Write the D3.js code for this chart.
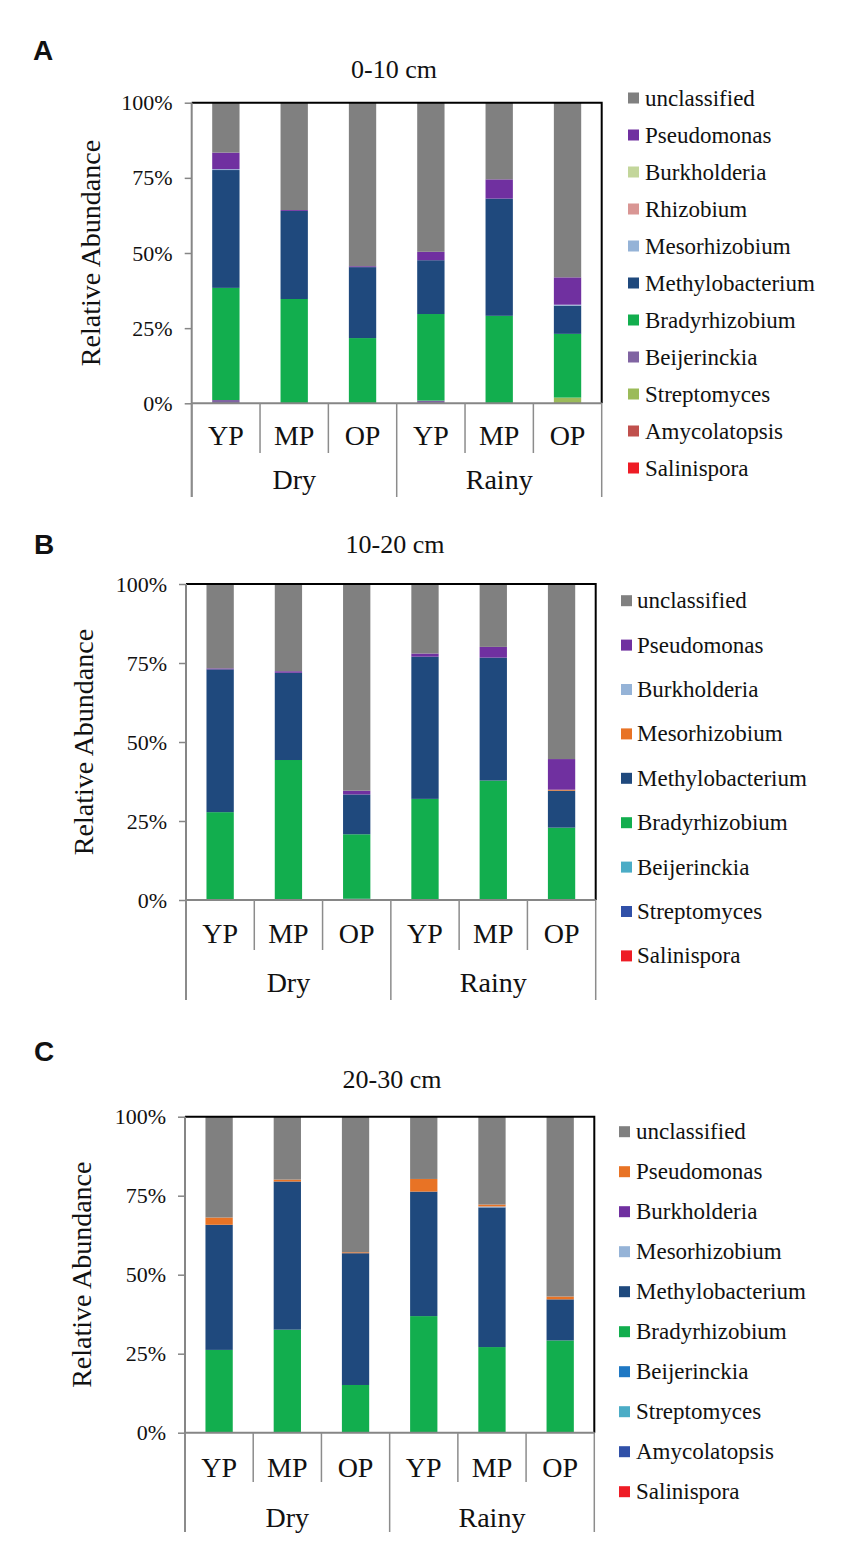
<!DOCTYPE html>
<html>
<head>
<meta charset="utf-8">
<script src="https://cdn.jsdelivr.net/npm/d3@7"></script>
<style>
  body { margin: 0; background: #fff; }
  svg text { font-family: "Liberation Serif", "Times New Roman", serif; fill: #111; }
  svg text.letter { font-family: "Liberation Sans", Arial, sans-serif; font-weight: bold; }
</style>
</head>
<body>
<svg id="chart" width="846" height="1558"></svg>
<script>
// x categories
var plots = ["YP", "MP", "OP", "YP", "MP", "OP"];
var seasons = ["Dry", "Rainy"];
var yTicks = [0, 25, 50, 75, 100];

// panel A, 0-10 cm (stack order bottom -> top)
var taxaA = ["Salinispora", "Amycolatopsis", "Streptomyces", "Beijerinckia", "Bradyrhizobium",
  "Methylobacterium", "Mesorhizobium", "Rhizobium", "Burkholderia", "Pseudomonas", "unclassified"];
var valsA = [
  [0, 0, 0, 0, 0, 0],
  [0, 0, 0, 0, 0, 0],
  [0, 0, 0, 0, 0, 1.9],
  [1.1, 0, 0, 0.9, 0, 0],
  [37.3, 34.7, 21.7, 28.8, 29.1, 21.2],
  [39.2, 29.3, 23.6, 17.9, 39.0, 9.4],
  [0.3, 0, 0, 0, 0, 0.3],
  [0, 0, 0, 0, 0, 0],
  [0, 0, 0, 0, 0, 0],
  [5.5, 0.3, 0.3, 2.8, 6.4, 9.1],
  [16.6, 35.7, 54.4, 49.6, 25.5, 58.1]
];
var colorsA = ["#ee1c25", "#c0504d", "#9bbb59", "#8064a2", "#12ae4e", "#1f497d", "#95b3d7",
  "#d99694", "#c3d69b", "#7030a0", "#808080"];

// panel B, 10-20 cm
var taxaB = ["Salinispora", "Streptomyces", "Beijerinckia", "Bradyrhizobium", "Methylobacterium",
  "Mesorhizobium", "Burkholderia", "Pseudomonas", "unclassified"];
var valsB = [
  [0, 0, 0, 0, 0, 0],
  [0, 0, 0.4, 0, 0, 0],
  [0, 0, 0, 0, 0, 0],
  [27.8, 44.3, 20.4, 32.0, 37.8, 22.9],
  [45.2, 27.6, 12.6, 45.0, 38.9, 11.7],
  [0, 0, 0, 0, 0, 0.3],
  [0, 0, 0, 0, 0, 0],
  [0.3, 0.5, 1.2, 1.0, 3.4, 9.7],
  [26.7, 27.6, 65.4, 22.0, 19.9, 55.4]
];
var colorsB = ["#ee1c25", "#3050a8", "#4bacc6", "#12ae4e", "#1f497d", "#e87325", "#95b3d7",
  "#7030a0", "#808080"];

// panel C, 20-30 cm
var taxaC = ["Salinispora", "Amycolatopsis", "Streptomyces", "Beijerinckia", "Bradyrhizobium",
  "Methylobacterium", "Mesorhizobium", "Burkholderia", "Pseudomonas", "unclassified"];
var valsC = [
  [0, 0, 0, 0, 0, 0],
  [0, 0, 0, 0, 0, 0],
  [0, 0, 0, 0, 0, 0],
  [0, 0, 0, 0, 0, 0],
  [26.2, 32.6, 15.1, 36.9, 27.1, 29.2],
  [39.6, 46.9, 41.7, 39.4, 44.2, 13.0],
  [0, 0, 0, 0, 0.3, 0],
  [0, 0, 0, 0, 0, 0],
  [2.3, 0.6, 0.3, 4.0, 0.6, 0.9],
  [31.9, 19.9, 42.9, 19.7, 27.8, 56.9]
];
var colorsC = ["#ee1c25", "#3050a8", "#4bacc6", "#1f78c4", "#12ae4e", "#1f497d", "#95b3d7",
  "#7030a0", "#e87325", "#808080"];

var svg = d3.select("#chart");

function drawPanel(p){
  var g = svg.append("g");

  // stack the rows
  var rows = plots.map((c, i) => {
    var r = {idx: i};
    p.taxa.forEach((t, k) => { r[t] = p.vals[k][i]; });
    return r;
  });
  var series = d3.stack().keys(p.taxa)(rows);

  var x = d3.scaleBand().domain(d3.range(plots.length))
    .range([p.left, p.right]).paddingInner(0.6).paddingOuter(0.3);
  var y = d3.scaleLinear().domain([0, 100]).range([p.bottom, p.top]);
  var color = d3.scaleOrdinal().domain(p.taxa).range(p.colors);

  g.selectAll("g.ser")
    .data(series)
    .enter()
    .append("g")
    .attr("fill", d => color(d.key))
    .selectAll("rect")
    .data(d => d)
    .enter()
    .append("rect")
    .attr("x", d => x(d.data.idx))
    .attr("width", x.bandwidth())
    .attr("y", d => y(d[1]))
    .attr("height", d => Math.max(0, y(d[0]) - y(d[1])));

  // plot border top + right (black)
  g.append("path")
    .attr("d", "M" + p.left + "," + p.top + "H" + p.right + "V" + p.bottom)
    .attr("fill", "none").attr("stroke", "#000").attr("stroke-width", 2);

  // y axis
  var yAxis = d3.axisLeft(y).tickValues(yTicks).tickFormat(d => d + "%")
    .tickSize(7).tickPadding(12);
  var ya = g.append("g").attr("transform", "translate(" + p.left + ",0)").call(yAxis);
  ya.select(".domain").remove();
  ya.selectAll("line").attr("stroke", "#868686").attr("stroke-width", 1.5);
  ya.selectAll("text").attr("font-size", 22).attr("font-family", "Liberation Serif").attr("fill", "#111");

  // left axis line runs down through the category table
  g.append("line")
    .attr("x1", p.left).attr("x2", p.left)
    .attr("y1", p.top).attr("y2", p.outer)
    .attr("stroke", "#868686").attr("stroke-width", 2);
  // bottom axis
  g.append("line")
    .attr("x1", p.left).attr("x2", p.right)
    .attr("y1", p.bottom).attr("y2", p.bottom)
    .attr("stroke", "#868686").attr("stroke-width", 2);

  // category dividers
  var step = x.step();
  var bounds = d3.range(plots.length + 1).map(i => p.left + i * step);
  g.selectAll("line.div")
    .data(bounds)
    .enter()
    .append("line")
    .attr("x1", d => d).attr("x2", d => d)
    .attr("y1", p.bottom)
    .attr("y2", (d, i) => i % 3 == 0 ? p.outer : p.inner)
    .attr("stroke", "#8c8c8c").attr("stroke-width", 1.5);

  g.selectAll("text.cat")
    .data(plots)
    .enter()
    .append("text")
    .attr("x", (d, i) => x(i) + x.bandwidth() / 2)
    .attr("y", p.catY)
    .attr("text-anchor", "middle")
    .attr("font-size", 28)
    .text(d => d);

  g.selectAll("text.season")
    .data(seasons)
    .enter()
    .append("text")
    .attr("x", (d, i) => p.left + step * (1.5 + i * 3))
    .attr("y", p.seasonY)
    .attr("text-anchor", "middle")
    .attr("font-size", 28)
    .text(d => d);

  // title, letter, y label
  g.append("text").attr("x", p.titleX).attr("y", p.titleY)
    .attr("text-anchor", "middle").attr("font-size", 26).text(p.title);
  g.append("text").attr("class", "letter").attr("x", p.letterX).attr("y", p.letterY)
    .attr("font-size", 28).text(p.letter);
  g.append("text")
    .attr("transform", "translate(" + p.ylabX + "," + ((p.top + p.bottom) / 2) + ") rotate(-90)")
    .attr("text-anchor", "middle").attr("font-size", 28).text("Relative Abundance");

  // legend, top entry = top of stack
  var leg = p.taxa.slice().reverse();
  var li = g.selectAll("g.leg")
    .data(leg)
    .enter()
    .append("g")
    .attr("transform", (d, i) => "translate(" + p.legX + "," + (p.legY + i * p.legStep) + ")");
  li.append("rect").attr("x", 0).attr("y", -5.5).attr("width", 11).attr("height", 11)
    .attr("fill", d => color(d));
  li.append("text").attr("x", p.legTextDx).attr("y", 7.5).attr("font-size", 23).text(d => d);
}

drawPanel({letter: "A", title: "0-10 cm", taxa: taxaA, vals: valsA, colors: colorsA,
  left: 191.7, right: 601.7, top: 102.7, bottom: 403.3, inner: 453, outer: 497,
  catY: 445, seasonY: 489, titleX: 394, titleY: 78, letterX: 33, letterY: 60, ylabX: 100,
  legX: 628, legY: 98, legStep: 37, legTextDx: 17});

drawPanel({letter: "B", title: "10-20 cm", taxa: taxaB, vals: valsB, colors: colorsB,
  left: 186, right: 595.7, top: 584, bottom: 900, inner: 950, outer: 1000,
  catY: 943, seasonY: 992, titleX: 395, titleY: 553, letterX: 34, letterY: 554, ylabX: 93,
  legX: 621, legY: 600.7, legStep: 44.4, legTextDx: 16});

drawPanel({letter: "C", title: "20-30 cm", taxa: taxaC, vals: valsC, colors: colorsC,
  left: 185, right: 594.3, top: 1116.7, bottom: 1432.7, inner: 1482, outer: 1532,
  catY: 1477, seasonY: 1527, titleX: 392, titleY: 1088, letterX: 34, letterY: 1061, ylabX: 91,
  legX: 619, legY: 1131.7, legStep: 40, legTextDx: 17});
</script>
</body>
</html>
